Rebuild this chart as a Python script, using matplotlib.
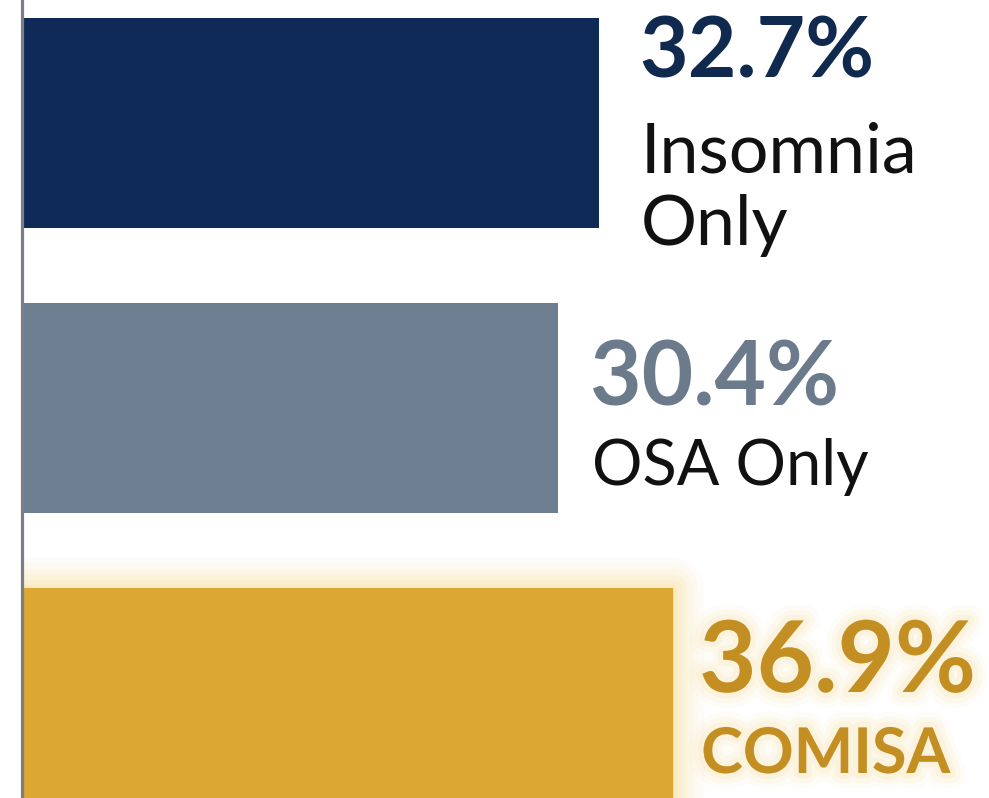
import matplotlib
matplotlib.use("Agg")
import matplotlib.pyplot as plt
import matplotlib.patheffects as pe

# ---- data ----
categories = ["Insomnia\nOnly", "OSA Only", "COMISA"]
values = [32.7, 30.4, 36.9]
value_labels = ["32.7%", "30.4%", "36.9%"]

# ---- styles ----
bar_colors = ["#0f2a56", "#6d7e90", "#dca733"]
value_colors = ["#10294f", "#6b7b8c", "#c48f22"]
label_colors = ["#111111", "#111111", "#c48f22"]
value_sizes = [84, 89, 99]        # em size in px
label_sizes = [70, 63, 63]
label_weights = ["normal", "normal", "bold"]
x_offsets = [40, 32, 26]          # px right of bar end
value_dy = [-45, -3, -1]           # baseline offset of value text from bar centre (px, +down)
label_dy = [122, 77, 80]           # baseline offset of last label line from bar centre (px, +down)

W, H = 989, 798
fig = plt.figure(figsize=(W / 100, H / 100), dpi=100)
fig.patch.set_facecolor("white")
x0 = 21.5
scale = 17.66
ax = fig.add_axes([x0 / W, 0, (W - x0) / W, 1])
ax.set_xlim(0, (W - x0) / scale)
pitch = 285
ax.set_ylim((H - 123) / pitch, -123 / pitch)
ax.set_facecolor("white")

ypos = list(range(len(values)))
bars = ax.barh(ypos, values, height=210 / pitch, color=bar_colors, zorder=2)

# glow on the highlighted (COMISA) bar
glow = [pe.Stroke(linewidth=lw, foreground="#fbd98a", alpha=a, joinstyle="round")
        for lw, a in [(44, 0.06), (36, 0.07), (28, 0.09), (20, 0.11), (12, 0.14), (5, 0.2)]] + [pe.Normal()]
bars[2].set_path_effects(glow)

for sp in ["top", "right", "bottom"]:
    ax.spines[sp].set_visible(False)
ax.spines["left"].set_color("#7b8088")
ax.spines["left"].set_linewidth(2.3)
ax.spines["left"].set_zorder(3)
ax.set_xticks([])
ax.set_yticks([])

font = "Lato"
for i, (v, vl, cat) in enumerate(zip(values, value_labels, categories)):
    eff = None
    if i == 2:
        eff = [pe.Stroke(linewidth=lw, foreground="#fbe0a0", alpha=a, joinstyle="round")
               for lw, a in [(22, 0.08), (15, 0.12), (8, 0.18)]] + [pe.Normal()]
    t1 = ax.annotate(vl, xy=(v, i), xytext=(x_offsets[i], -value_dy[i]),
                     textcoords="offset pixels", ha="left", va="baseline",
                     fontsize=value_sizes[i] * 0.72, fontweight="bold",
                     color=value_colors[i], family=font, annotation_clip=False)
    t2 = ax.annotate(cat, xy=(v, i), xytext=(x_offsets[i] + 2, -label_dy[i]),
                     textcoords="offset pixels", ha="left", va="baseline",
                     fontsize=label_sizes[i] * 0.72, fontweight=label_weights[i],
                     color=label_colors[i], family=font, linespacing=1.18,
                     annotation_clip=False)
    if eff:
        t1.set_path_effects(eff)
        t2.set_path_effects(eff)

fig.savefig("out.png", dpi=100, facecolor="white")
